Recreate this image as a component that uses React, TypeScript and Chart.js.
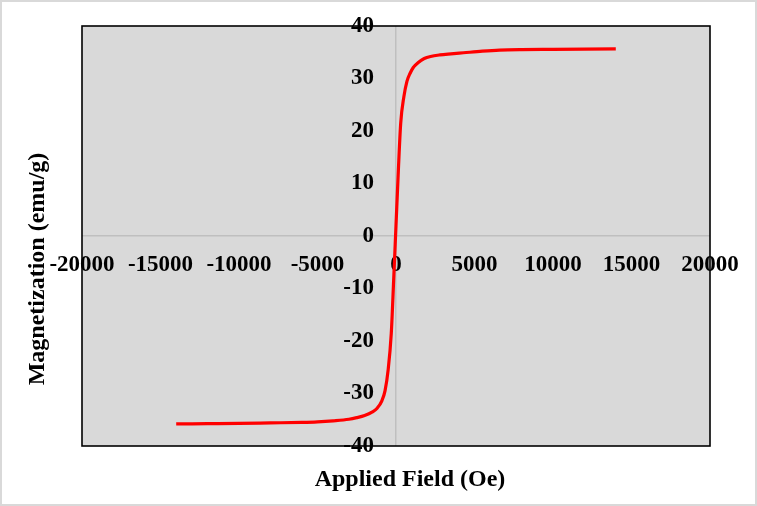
import React, { useEffect, useRef } from "react";
import { Chart, registerables } from "chart.js";

Chart.register(...registerables);

const fieldOe = [
  -14000, -12000, -10000, -8000, -6000, -5000, -4000, -3000, -2500, -2000, -1500, -1200,
  -900, -700, -500, -300, -150, 0, 150, 300, 500, 700, 900, 1100, 1400, 1800, 2200,
  2800, 3500, 4300, 5500, 6600, 8000, 10000, 12000, 14000,
];
const magnetization = [
  -35.8, -35.75, -35.7, -35.6, -35.5, -35.4, -35.2, -34.9, -34.6, -34.2, -33.5, -32.8,
  -31.4, -29.5, -25.5, -18.5, -8.5, 2, 12.5, 21.5, 26.5, 29.5, 31.0, 32.1, 33.0, 33.8,
  34.2, 34.5, 34.7, 34.9, 35.2, 35.4, 35.5, 35.55, 35.6, 35.65,
];
const xTitle = "Applied Field (Oe)";
const yTitle = "Magnetization (emu/g)";

const FONT = "'Liberation Serif', 'Times New Roman', serif";

const decorPlugin = {
  id: "decor",
  beforeDraw(chart: any) {
    const { ctx, chartArea: a, width, height } = chart;
    ctx.save();
    ctx.fillStyle = "#ffffff";
    ctx.fillRect(0, 0, width, height);
    ctx.strokeStyle = "#d9d9d9";
    ctx.lineWidth = 2;
    ctx.strokeRect(1, 1, width - 2, height - 2);
    ctx.fillStyle = "#d9d9d9";
    ctx.fillRect(a.left, a.top, a.right - a.left, a.bottom - a.top);
    ctx.restore();
  },
  beforeDatasetsDraw(chart: any) {
    const { ctx, chartArea: a } = chart;
    ctx.save();
    ctx.strokeStyle = "#000000";
    ctx.lineWidth = 1.6;
    ctx.strokeRect(a.left, a.top, a.right - a.left, a.bottom - a.top);
    ctx.fillStyle = "#000000";
    ctx.font = `bold 24px ${FONT}`;
    ctx.textAlign = "center";
    ctx.textBaseline = "middle";
    ctx.fillText(xTitle, 410, 480);
    ctx.translate(38, 269);
    ctx.rotate(-Math.PI / 2);
    ctx.fillText(yTitle, 0, 0);
    ctx.restore();
  },
};

const zeroLine = (c: any) => (c.tick && c.tick.value === 0 ? "#bfbfbf" : "rgba(0,0,0,0)");

export default function App() {
  const ref = useRef<HTMLCanvasElement>(null);
  useEffect(() => {
    document.body.style.margin = "0";
    const points = fieldOe.map((h, i) => ({ x: h, y: magnetization[i] }));
    const chart = new Chart(ref.current!, {
      type: "line",
      data: {
        datasets: [
          {
            data: points,
            borderColor: "#ff0000",
            borderWidth: 3.2,
            pointRadius: 0,
            fill: false,
            cubicInterpolationMode: "monotone",
          },
        ],
      },
      options: {
        responsive: false,
        animation: false,
        layout: { padding: { left: 82, right: 47, top: 26, bottom: 60 } },
        plugins: { legend: { display: false }, tooltip: { enabled: false } },
        scales: {
          x: {
            type: "linear",
            position: { y: 0 } as any,
            min: -20000,
            max: 20000,
            afterFit: (s: any) => {
              s.paddingLeft = 0;
              s.paddingRight = 0;
              s.paddingTop = 0;
              s.paddingBottom = 0;
            },
            ticks: {
              stepSize: 5000,
              autoSkip: false,
              maxRotation: 0,
              padding: 15,
              color: "#000",
              callback: (v: any) => String(v),
              font: { family: FONT, size: 23, weight: "bold" },
            },
            grid: { display: true, color: zeroLine, lineWidth: 1.5, drawTicks: false },
            border: { display: false },
          },
          y: {
            type: "linear",
            position: { x: -1400 } as any,
            min: -40,
            max: 40,
            afterFit: (s: any) => {
              s.paddingLeft = 0;
              s.paddingRight = 0;
              s.paddingTop = 0;
              s.paddingBottom = 0;
            },
            ticks: {
              stepSize: 10,
              autoSkip: false,
              color: "#000",
              callback: (v: any) => String(v),
              font: { family: FONT, size: 23, weight: "bold" },
            },
            grid: { display: true, color: zeroLine, lineWidth: 1.5, drawTicks: false },
            border: { display: false },
          },
        },
      },
      plugins: [decorPlugin],
    });
    return () => chart.destroy();
  }, []);
  return (
    <div style={{ width: 757, height: 506 }}>
      <canvas ref={ref} width={757} height={506} style={{ display: "block" }} />
    </div>
  );
}
